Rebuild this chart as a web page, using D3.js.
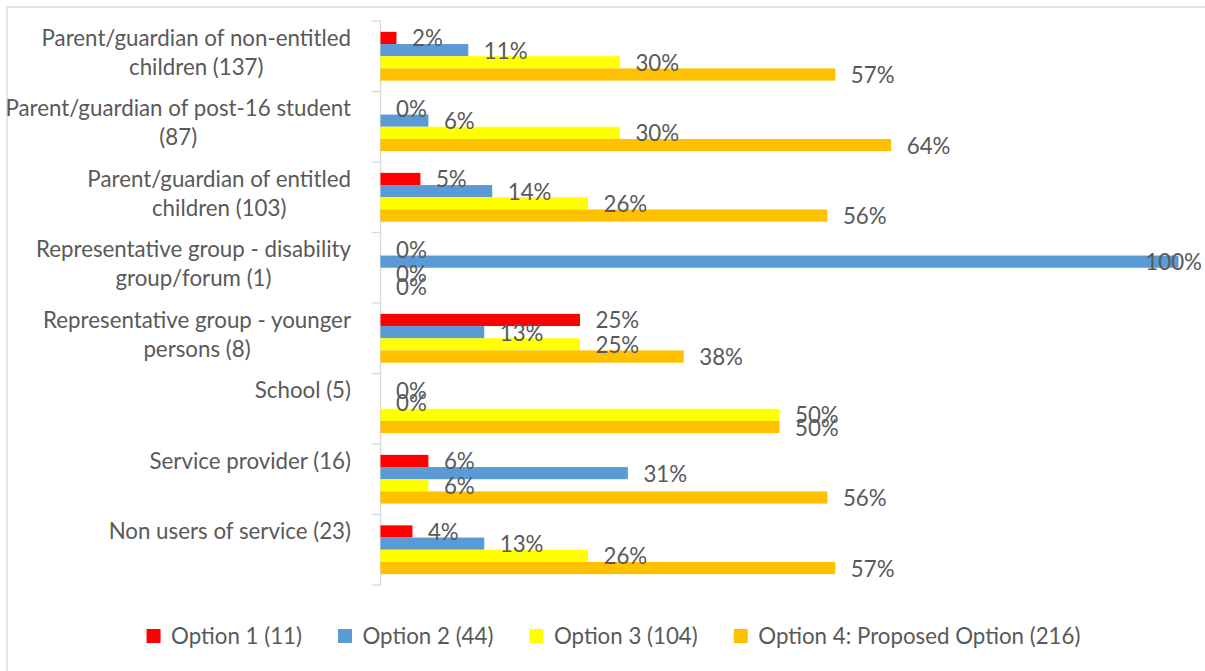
<!DOCTYPE html>
<html>
<head>
<meta charset="utf-8">
<script src="https://cdn.jsdelivr.net/npm/d3@7"></script>
<style>
  html, body { margin: 0; padding: 0; background: #fff; }
  svg { display: block; }
  text { font-family: Lato, "Open Sans", sans-serif; fill: #595959; }
</style>
</head>
<body>
<svg id="chart" width="1205" height="671"></svg>
<script>
// ---- data ----
const categories = [
  ["Parent/guardian of non-entitled", "children (137)"],
  ["Parent/guardian of post-16 student", "(87)"],
  ["Parent/guardian of entitled", "children (103)"],
  ["Representative group - disability", "group/forum (1)"],
  ["Representative group - younger", "persons (8)"],
  ["School (5)"],
  ["Service provider (16)"],
  ["Non users of service (23)"]
];
const seriesNames = ["Option 1 (11)", "Option 2 (44)", "Option 3 (104)", "Option 4: Proposed Option (216)"];
const option1 = [2, 0, 5, 0, 25, 0, 6, 4];
const option2 = [11, 6, 14, 100, 13, 0, 31, 13];
const option3 = [30, 30, 26, 0, 25, 50, 6, 26];
const option4 = [57, 64, 56, 0, 38, 50, 56, 57];
const seriesColors = ["#FF0000", "#5B9BD5", "#FFFF00", "#FFC000"];

const seriesValues = [option1, option2, option3, option4];
const FONT = 22.3;

const svg = d3.select("#chart");

// border
svg.append("path")
  .attr("d", "M7,671 L7,7 L1205,7")
  .attr("fill", "none").attr("stroke", "#d9d9d9").attr("stroke-width", 1.3);

const catIdx = d3.range(categories.length);
const x = d3.scaleLinear().domain([0, 100]).range([380, 1178]);
const y0 = d3.scaleBand().domain(catIdx).range([21, 585]).padding(0);
const y1 = d3.scaleBand().domain(d3.range(seriesNames.length))
  .range([0, y0.bandwidth()]).paddingInner(0).paddingOuter(0.89);

// axis
const axisG = svg.append("g");
axisG.append("line").attr("x1", 380.5).attr("x2", 380.5).attr("y1", 21).attr("y2", 585)
  .attr("stroke", "#d9d9d9").attr("stroke-width", 1.3);
const bounds = d3.range(categories.length + 1).map(i => i < categories.length ? y0(i) : y0(categories.length - 1) + y0.bandwidth());
axisG.selectAll("line.tick").data(bounds).join("line").attr("class", "tick")
  .attr("x1", 372).attr("x2", 380.5).attr("y1", d => d).attr("y2", d => d)
  .attr("stroke", "#d9d9d9").attr("stroke-width", 1.3);

// bars
const flat = [];
seriesValues.forEach((vals, s) => vals.forEach((v, c) => flat.push({s, c, v})));

svg.append("g").selectAll("rect").data(flat).join("rect")
  .attr("x", x(0) + 0.5)
  .attr("y", d => y0(d.c) + y1(d.s))
  .attr("width", d => Math.max(0, x(d.v) - x(0)))
  .attr("height", y1.bandwidth())
  .attr("fill", d => seriesColors[d.s]);

// labels
const lab = svg.append("g").selectAll("text").data(flat).join("text")
  .attr("font-size", FONT)
  .attr("y", d => y0(d.c) + y1(d.s) + y1.bandwidth() / 2 + 8.5)
  .text(d => d.v + "%");
lab.each(function(d) {
  const w = this.getComputedTextLength();
  let tx = x(d.v) + 16;
  if (tx + w > 1202) tx = 1202 - w;
  d3.select(this).attr("x", tx);
});

// category labels
const catG = svg.append("g");
categories.forEach((lines, c) => {
  const g = catG.append("g");
  const base = y0(c) + y0.bandwidth() / 2 - 10.5;
  const ts = lines.map((ln, i) => g.append("text").attr("font-size", FONT)
    .attr("y", base + i * 29).text(ln));
  const maxW = d3.max(ts, t => t.node().getComputedTextLength());
  const cx = 351 - maxW / 2;
  ts.forEach(t => t.attr("x", cx).attr("text-anchor", "middle"));
});

// legend
const leg = svg.append("g");
const items = seriesNames.map((name, i) => {
  const g = leg.append("g");
  g.append("rect").attr("width", 14).attr("height", 14).attr("y", 629).attr("fill", seriesColors[i]);
  const t = g.append("text").attr("font-size", FONT).attr("x", 24.5).attr("y", 643.5).text(name);
  return {g, w: t.node().getComputedTextLength()};
});
const gap = 36;
const totalW = d3.sum(items, d => 24.5 + d.w) + gap * (items.length - 1);
let cur = 613.5 - totalW / 2;
items.forEach(it => { it.g.attr("transform", `translate(${cur},0)`); cur += 24.5 + it.w + gap; });
</script>
</body>
</html>
